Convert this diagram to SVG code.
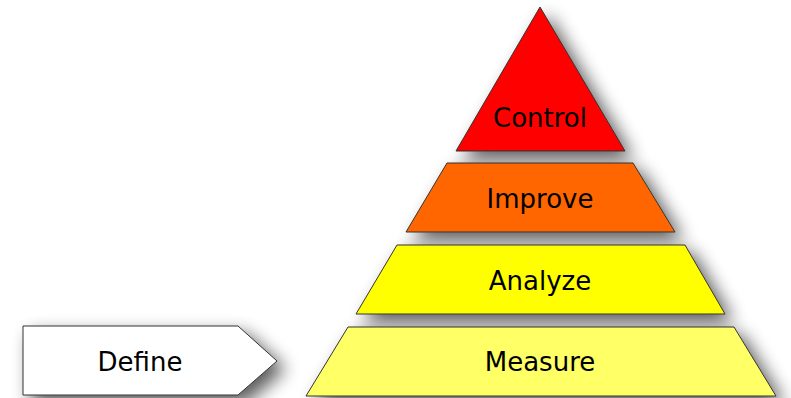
<svg xmlns="http://www.w3.org/2000/svg" width="791" height="398" viewBox="0 0 791 398">
  <defs>
    <filter id="sh" x="-40%" y="-40%" width="180%" height="180%">
      <feGaussianBlur in="SourceAlpha" stdDeviation="9"/>
      <feOffset dx="8" dy="8" result="b"/>
      <feComponentTransfer><feFuncA type="linear" slope="0.65"/></feComponentTransfer>
      <feMerge><feMergeNode/><feMergeNode in="SourceGraphic"/></feMerge>
    </filter>
  </defs>
  <style>
    .s { stroke: #333333; stroke-width: 1; filter: url(#sh); }
    .t { font-family: "DejaVu Sans", Verdana, sans-serif; font-size: 26px; fill: #000; text-anchor: middle; }
  </style>
  <rect width="791" height="398" fill="#ffffff"/>
  <g id="control">
    <polygon class="s" points="540,7 625,151 456,151" fill="#FF0000"/>
    <text class="t" x="540" y="127">Control</text>
  </g>
  <g id="improve">
    <polygon class="s" points="447,163 633,163 675,232 406,232" fill="#FF6600"/>
    <text class="t" x="540" y="208">Improve</text>
  </g>
  <g id="analyze">
    <polygon class="s" points="397,245 685,245 725,314 356,314" fill="#FFFF00"/>
    <text class="t" x="540" y="290">Analyze</text>
  </g>
  <g id="measure">
    <polygon class="s" points="348,327 734,327 776,396 306,396" fill="#FFFF66"/>
    <text class="t" x="540" y="371">Measure</text>
  </g>
  <g id="define">
    <polygon class="s" points="23,326 238,326 277,361 238,395 23,395" fill="#FFFFFF"/>
    <text class="t" x="140" y="371">Define</text>
  </g>
  <g id="connectors"></g>
</svg>
